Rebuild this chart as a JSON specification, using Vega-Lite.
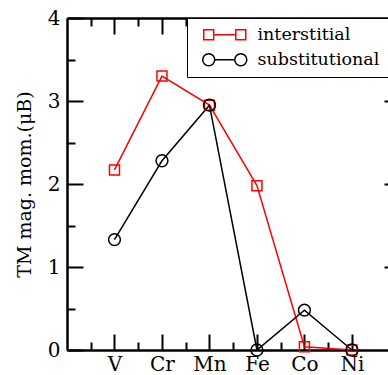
{
  "$schema": "https://vega.github.io/schema/vega-lite/v6.json",
  "width": 321,
  "height": 332,
  "autosize": {"type": "none"},
  "padding": {"left": 67, "top": 18, "right": 0, "bottom": 25},
  "background": "white",
  "config": {
    "view": {"stroke": null},
    "font": "DejaVu Serif",
    "axis": {
      "grid": false,
      "domainColor": "black",
      "domainWidth": 2,
      "tickColor": "black",
      "tickWidth": 2,
      "labelFlush": false,
      "labelFont": "DejaVu Serif",
      "labelFontSize": 20,
      "labelColor": "black",
      "titleFont": "DejaVu Serif",
      "titleFontSize": 19,
      "titleFontWeight": "normal",
      "titleColor": "black"
    }
  },
  "data": {
    "values": [
      {"element": "V", "Z": 23, "series": "interstitial", "moment": 2.17},
      {"element": "Cr", "Z": 24, "series": "interstitial", "moment": 3.30},
      {"element": "Mn", "Z": 25, "series": "interstitial", "moment": 2.95},
      {"element": "Fe", "Z": 26, "series": "interstitial", "moment": 1.98},
      {"element": "Co", "Z": 27, "series": "interstitial", "moment": 0.04},
      {"element": "Ni", "Z": 28, "series": "interstitial", "moment": 0.0},
      {"element": "V", "Z": 23, "series": "substitutional", "moment": 1.33},
      {"element": "Cr", "Z": 24, "series": "substitutional", "moment": 2.28},
      {"element": "Mn", "Z": 25, "series": "substitutional", "moment": 2.95},
      {"element": "Fe", "Z": 26, "series": "substitutional", "moment": 0.0},
      {"element": "Co", "Z": 27, "series": "substitutional", "moment": 0.48},
      {"element": "Ni", "Z": 28, "series": "substitutional", "moment": 0.0}
    ]
  },
  "resolve": {"axis": {"x": "independent", "y": "independent"}},
  "layer": [
    {
      "transform": [{"filter": "datum.series === 'interstitial'"}],
      "mark": {"type": "line", "strokeWidth": 1.5, "color": "#ff0000"},
      "encoding": {
        "x": {
          "field": "Z", "type": "quantitative",
          "scale": {"domain": [22, 28.76], "nice": false, "zero": false},
          "axis": {"orient": "bottom", "values": [23, 24, 25, 26, 27, 28], "tickSize": -16, "labelPadding": 20, "title": null,
                   "labelExpr": "['V','Cr','Mn','Fe','Co','Ni'][datum.value - 23]"}
        },
        "y": {
          "field": "moment", "type": "quantitative",
          "scale": {"domain": [0, 4], "nice": false},
          "axis": {"orient": "left", "values": [0, 1, 2, 3, 4], "tickSize": -16, "labelPadding": 23, "titlePadding": 13,
                   "title": "TM mag. mom.(μB)"}
        }
      }
    },
    {
      "transform": [{"filter": "datum.series === 'substitutional'"}],
      "mark": {"type": "line", "strokeWidth": 1.5, "color": "#000000"},
      "encoding": {
        "x": {"field": "Z", "type": "quantitative",
              "axis": {"orient": "bottom", "values": [22.5, 23.5, 24.5, 25.5, 26.5, 27.5], "tickSize": -8, "labels": false, "title": null}},
        "y": {"field": "moment", "type": "quantitative",
              "axis": {"orient": "left", "values": [0.5, 1.5, 2.5, 3.5], "tickSize": -8, "labels": false, "title": null}}
      }
    },
    {
      "transform": [{"filter": "datum.series === 'interstitial'"}],
      "mark": {"type": "point", "shape": "square", "filled": false, "color": "#ff0000", "size": 100, "strokeWidth": 1.5, "opacity": 1},
      "encoding": {
        "x": {"field": "Z", "type": "quantitative",
              "axis": {"orient": "top", "values": [23, 24, 25, 26, 27, 28], "tickSize": -16, "labels": false, "title": null}},
        "y": {"field": "moment", "type": "quantitative",
              "axis": {"orient": "right", "values": [1, 2, 3], "tickSize": -4, "domain": false, "labels": false, "title": null}}
      }
    },
    {
      "transform": [{"filter": "datum.series === 'substitutional'"}],
      "mark": {"type": "point", "shape": "circle", "filled": false, "color": "#000000", "size": 140, "strokeWidth": 1.5, "opacity": 1},
      "encoding": {
        "x": {"field": "Z", "type": "quantitative",
              "axis": {"orient": "top", "values": [22.5, 23.5, 24.5, 25.5, 26.5, 27.5], "tickSize": -8, "labels": false, "title": null}},
        "y": {"field": "moment", "type": "quantitative", "axis": null}
      }
    },
    {
      "transform": [{"filter": "false"}],
      "mark": {"type": "point", "filled": false, "strokeWidth": 1.5, "opacity": 1},
      "encoding": {
        "x": {"field": "Z", "type": "quantitative", "axis": null},
        "y": {"field": "moment", "type": "quantitative", "axis": null},
        "color": {
          "field": "series", "type": "nominal",
          "scale": {"domain": ["interstitial", "substitutional"], "range": ["#ff0000", "#000000"]},
          "legend": {
            "title": null,
            "orient": "top-right",
            "offset": 0,
            "strokeColor": "black",
            "fillColor": "white",
            "padding": 8,
            "rowPadding": 6,
            "symbolSize": 196,
            "symbolOffset": 21,
            "symbolStrokeWidth": 1.5,
            "labelOffset": 24,
            "labelFont": "DejaVu Serif",
            "labelFontSize": 17.5,
            "labelColor": "black"
          }
        },
        "shape": {
          "field": "series", "type": "nominal",
          "scale": {
            "domain": ["interstitial", "substitutional"],
            "range": [
              "M-3,-0.71H-1.58V0.71H-3ZM1.58,-0.71H3V0.71H1.58ZM-1.58,0H1.58",
              "M-1.43,0A0.86,0.86,0,1,1,-3.15,0A0.86,0.86,0,1,1,-1.43,0ZM3.15,0A0.86,0.86,0,1,1,1.43,0A0.86,0.86,0,1,1,3.15,0ZM-1.43,0H1.43"
            ]
          }
        }
      }
    }
  ]
}
